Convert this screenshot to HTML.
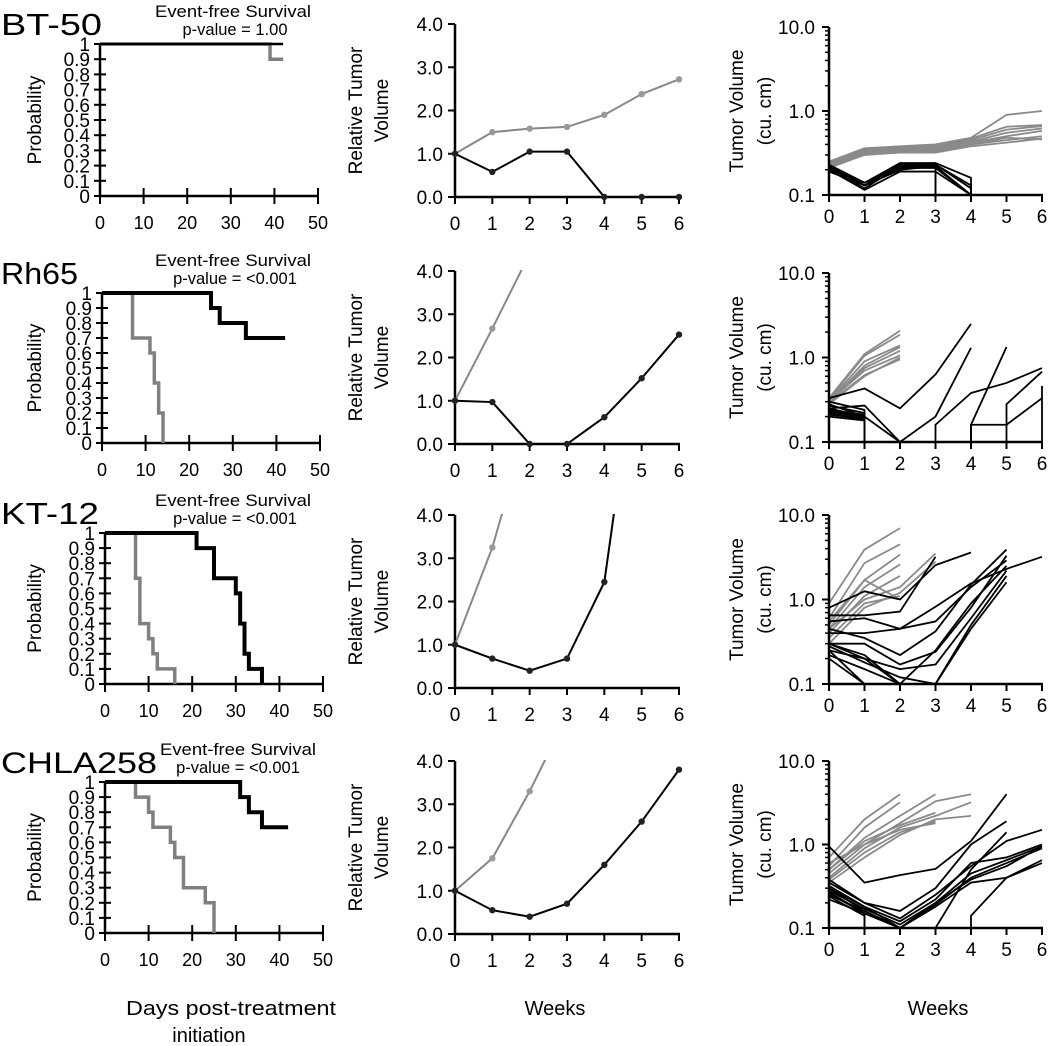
<!DOCTYPE html>
<html><head><meta charset="utf-8">
<style>
html,body{margin:0;padding:0;background:#fff;}
svg{display:block;font-family:"Liberation Sans",sans-serif;}
</style></head>
<body>
<svg id="fig" width="1050" height="1046" viewBox="0 0 1050 1046" xmlns="http://www.w3.org/2000/svg"></svg>
<script>
// ---------- DATA ----------
const rowNames = ["BT-50","Rh65","KT-12","CHLA258"];
const pValues = ["p-value = 1.00","p-value = <0.001","p-value = <0.001","p-value = <0.001"];
const kmXTicks = [0,10,20,30,40,50];
const kmYTicks = [0,0.1,0.2,0.3,0.4,0.5,0.6,0.7,0.8,0.9,1];
const kmYLabels = ["0","0.1","0.2","0.3","0.4","0.5","0.6","0.7","0.8","0.9","1"];
// KM curves: [day, survival] step points
const kmControl = [
  [[0,1],[39,0.9],[42,0.9]],
  [[0,1],[7,0.7],[11,0.6],[12,0.4],[13,0.2],[14,0]],
  [[0,1],[7,0.7],[8,0.4],[10,0.3],[11,0.2],[12,0.1],[16,0]],
  [[0,1],[7,0.9],[10,0.8],[11,0.7],[15,0.6],[16,0.5],[18,0.3],[23,0.2],[25,0]]
];
const kmTreated = [
  [[0,1],[42,1]],
  [[0,1],[25,0.9],[27,0.8],[33,0.7],[42,0.7]],
  [[0,1],[21,0.9],[25,0.7],[30,0.6],[31,0.4],[32,0.2],[33,0.1],[36,0]],
  [[0,1],[31,0.9],[33,0.8],[36,0.7],[42,0.7]]
];
const weeks = [0,1,2,3,4,5,6];
const rtvYTicks = [0,1,2,3,4];
const rtvYLabels = ["0.0","1.0","2.0","3.0","4.0"];
const rtvControl = [
  [1,1.5,1.58,1.62,1.9,2.38,2.72],
  [1,2.67,4.4],
  [1,3.25,6.25],
  [1,1.75,3.3,5.05]
];
const rtvTreated = [
  [1,0.58,1.05,1.05,0,0,0],
  [1,0.97,0,0,0.62,1.52,2.53],
  [1,0.68,0.4,0.68,2.45,8.6],
  [1,0.55,0.4,0.7,1.6,2.6,3.8]
];
const tvYMajor = [0.1,1,10];
const tvYLabels = ["0.1","1.0","10.0"];
// individual tumor volumes (cu. cm); 0 = tumor gone (vertical drop)
const tvControl = [
  [[0.25,0.36,0.38,0.4,0.48,0.9,1.0],[0.24,0.35,0.37,0.38,0.47,0.65,0.68],[0.23,0.33,0.36,0.37,0.45,0.6,0.66],
   [0.22,0.32,0.35,0.36,0.43,0.55,0.62],[0.24,0.34,0.36,0.35,0.42,0.5,0.58],[0.22,0.3,0.33,0.33,0.4,0.45,0.5],
   [0.21,0.3,0.32,0.32,0.38,0.42,0.47],[0.23,0.31,0.34,0.34,0.4,0.48,0.46]],
  [[0.33,1.1,2.07],[0.32,1.05,1.86],[0.31,0.9,1.39],[0.3,0.8,1.33],[0.3,0.7,1.06],[0.29,0.62,0.95],[0.28,0.6,1.0],[0.3,0.75,1.2]],
  [[0.9,3.9,7],[0.6,2.7,4.5],[0.5,1.7,3.4],[0.45,1.4,2.6],[0.4,1.1,1.9],[0.35,0.9,1.1],[0.45,1.0,1.4,3.5],[0.3,0.8,1.2,2.8],[0.55,1.7,1.0]],
  [[0.7,2.0,4.0],[0.55,1.6,3.2],[0.5,1.2,2.2,4.0],[0.45,1.0,1.8,3.3,4.0],[0.4,0.9,1.6,2.2,3.2],[0.5,1.1,1.7,2.4],
   [0.35,0.7,1.3,2.0,2.2],[0.38,0.8,1.4,1.9],[0.6,1.0,1.5,1.8]]
];
const tvTreated = [
  [[0.23,0.14,0.24,0.24,0.16,0],[0.22,0.13,0.23,0.23,0.13,0],[0.21,0.12,0.22,0.22,0.1],[0.2,0.14,0.21,0.21,0.1],
   [0.22,0.13,0.2,0.24,0],[0.2,0.115,0.19,0.19,0.1],[0.19,0.13,0.2,0.22,0],[0.21,0.14,0.22,0.23,0.12,0]],
  [[0.33,0.43,0.25,0.63,2.5],[0.25,0.27,0.1,0.2,1.3],[0.28,0.2,0.1],[0.3,0.24,0],[0.27,0.22,0],[0.25,0.2,0],[0.22,0.18,0],
   [0.24,0.21,0,0.16,0.38,0.5,0.75],[0.2,0.18,0,0,0.16,0.16,0.33],[0.23,0.2,0,0,0.16,1.33],[0.22,0.19,0,0,0,0.28,0.68],[0.21,0.19,0,0,0,0,0.46]],
  [[0.8,1.25,1.0,2.55,3.6],[0.65,0.65,0.72,3.2],[0.55,0.6,0.45,0.55,1.4,2.9],[0.45,0.35,0.22,0.42,1.5,3.9],
   [0.4,0.4,0.45,0.82,1.55,2.3,3.2],[0.3,0.3,0.17,0.24,0.8,3.3],[0.3,0.2,0.15,0.17,0.6,2.2],[0.25,0.1],[0.22,0.15,0.1],
   [0.3,0.22,0.1,0.25,0.9,2.5],[0.2,0.1],[0.28,0.18,0.12,0.1,0.5,1.9],[0.25,0.2,0.1,0.1,0.45,1.6]],
  [[0.95,0.35,0.43,0.51,1.1,4.0],[0.38,0.2,0.16,0.3,1.0,1.9],[0.35,0.2,0.13,0.25,0.55,1.1,1.5],[0.3,0.18,0.12,0.22,0.6,0.7,1.0],
   [0.28,0.17,0.11,0.2,0.45,0.65,0.95],[0.25,0.16,0.1,0.19,0.4,0.6,0.9],[0.22,0.15,0.1,0.18,0.35,0.4,0.6],
   [0.32,0.18,0.1,0.2,0.38,0.55,0.95],[0.3,0.16,0.1],[0.27,0.15,0],[0.26,0.15,0.1,0.1,0.5,1.4],[0.24,0.14,0,0,0.14,0.4,0.65]]
];
// ---------- LAYOUT ----------
const NS="http://www.w3.org/2000/svg";
const svg=document.getElementById('fig');
const kmRowTop=[44,293,533,782], kmRowBot=[196,443,684,933], kmX0=[100,102,105,105];
const mRowTop=[24,271,515,761], mRowBot=[197,444,688,934];
const rRowTop=[27,273,515,761], rRowBot=[195,442,684,928];
function el(tag,attrs,parent){const e=document.createElementNS(NS,tag);for(const k in attrs)e.setAttribute(k,attrs[k]);(parent||svg).appendChild(e);return e;}
function txt(s,x,y,size,anchor,parent,extra){const t=el('text',Object.assign({x:x,y:y,'font-size':size,'text-anchor':anchor||'start',fill:'#000'},extra||{}),parent);t.textContent=s;return t;}
function line(x1,y1,x2,y2,w,c,parent){return el('line',{x1:x1,y1:y1,x2:x2,y2:y2,stroke:c||'#000','stroke-width':w||2},parent);}

for(let r=0;r<4;r++){
  const off=kmRowTop[r]-44;
  const rowG=el('g',{});
  
  
  const lbl=txt(rowNames[r],1,35+off,r==3?30:31,'start',rowG,{textLength:r==3?156:(r==0?101:(r==1?77:(r==2?98:156))),lengthAdjust:'spacingAndGlyphs'});
  
  
  const cx=r==3?238:233;
  const t1=txt('Event-free Survival',cx,17+off,16.5,'middle',rowG,{textLength:r==3?156:156,lengthAdjust:'spacingAndGlyphs'});
  
  
  const t2=txt(pValues[r],r==3?238:235,35+off,16.5,'middle',rowG);
  
  

  // ---- KM panel ----
  const kg=el('g',{},rowG);
  
  
  const x0=kmX0[r], xw=218, yT=kmRowTop[r], yB=kmRowBot[r];
  const kx=d=>x0+d/50*xw, ky=p=>yB-p*(yB-yT);
  const yt=txt('Probability',0,0,19,'middle',kg,{transform:`translate(41,${(yT+yB)/2}) rotate(-90)`});
  
  
  kmYTicks.forEach((v,i)=>{line(x0-6,ky(v),x0+6,ky(v),2,'#000',kg);
    const l=txt(kmYLabels[i],x0-10,ky(v)+7,19,'end',kg);
    
    });
  kmXTicks.forEach(v=>{line(kx(v),yB-8,kx(v),yB+8,2,'#000',kg);
    const l=txt(String(v),kx(v),yB+33,18,'middle',kg);
    
    });
  line(x0,yT-1,x0,yB+1,2.5,'#000',kg);
  line(x0-1,yB,x0+xw+1,yB,2.5,'#000',kg);
  [[kmControl[r],'#808080',3.5,'km-control-curve'],[kmTreated[r],'#000',r==0?2.5:4,'km-treated-curve']].forEach(([pts,c,w,nm])=>{
    let d=`M${kx(pts[0][0])},${ky(pts[0][1])}`;
    for(let i=1;i<pts.length;i++){d+=` H${kx(pts[i][0])} V${ky(pts[i][1])}`;}
    const p=el('path',{d:d,fill:'none',stroke:c,'stroke-width':w},kg);
    
    
  });

  // ---- RTV panel ----
  const mg=el('g',{},rowG);
  
  
  const mx0=455, mxw=224, mT=mRowTop[r], mB=mRowBot[r];
  const mx=w=>mx0+w/6*mxw, my=v=>mB-v/4*(mB-mT);
  const cid='mclip'+r;
  const cp=el('clipPath',{id:cid},mg);el('rect',{x:mx0-6,y:mT-1,width:mxw+12,height:mB-mT+7},cp);
  const mt=el('text',{'font-size':19,'text-anchor':'middle',fill:'#000',transform:`translate(${362},${(mT+mB)/2}) rotate(-90)`},mg);
  
  
  const ts1=el('tspan',{x:0,dy:0},mt);ts1.textContent='Relative Tumor';
  const ts2=el('tspan',{x:0,dy:26},mt);ts2.textContent='Volume';
  rtvYTicks.forEach((v,i)=>{line(mx0-7,my(v),mx0,my(v),2,'#000',mg);
    const l=txt(rtvYLabels[i],mx0-12,my(v)+7,19,'end',mg);
    
    });
  weeks.forEach(v=>{line(mx(v),mB,mx(v),mB+7,2,'#000',mg);
    const l=txt(String(v),mx(v),mB+33,19,'middle',mg);
    
    });
  line(mx0,mT,mx0,mB+1,2.5,'#000',mg);
  line(mx0-1,mB,mx0+mxw+1,mB,2.5,'#000',mg);
  [[rtvControl[r],'#888','rtv-control-line'],[rtvTreated[r],'#000','rtv-treated-line']].forEach(([vals,c,nm])=>{
    const g=el('g',{'clip-path':`url(#${cid})`},mg);
    
    
    el('polyline',{points:vals.map((v,i)=>mx(i)+','+my(v)).join(' '),fill:'none',stroke:c,'stroke-width':2},g);
    vals.forEach((v,i)=>{if(v<=4.01){const m=el('circle',{cx:mx(i),cy:my(v),r:3.2,fill:c==='#000'?'#222':'#999'},g);
      
      }});
  });

  // ---- TV panel ----
  const rg=el('g',{},rowG);
  
  
  const rx0=829, rxw=213, rT=rRowTop[r], rB=rRowBot[r];
  const rx=w=>rx0+w/6*rxw, ry=v=>rB-(Math.log10(v)+1)/2*(rB-rT);
  const rid='rclip'+r;
  const rc=el('clipPath',{id:rid},rg);el('rect',{x:rx0,y:rT,width:rxw+3,height:rB-rT},rc);
  const rt=el('text',{'font-size':19,'text-anchor':'middle',fill:'#000',transform:`translate(${743},${(rT+rB)/2}) rotate(-90)`},rg);
  
  
  const r1=el('tspan',{x:0,dy:0},rt);r1.textContent='Tumor Volume';
  const r2=el('tspan',{x:0,dy:28},rt);r2.textContent='(cu. cm)';
  tvYMajor.forEach((v,i)=>{line(rx0-7,ry(v),rx0,ry(v),2,'#000',rg);
    const l=txt(tvYLabels[i],rx0-14,ry(v)+7,19,'end',rg);
    
    
    if(v<10){for(let k=2;k<10;k++)line(rx0-4,ry(v*k),rx0,ry(v*k),1.5,'#000',rg);}});
  weeks.forEach(v=>{line(rx(v),rB,rx(v),rB+7,2,'#000',rg);
    const l=txt(String(v),rx(v),rB+28,19,'middle',rg);
    
    });
  [[tvControl[r],'#8a8a8a','tv-control-line'],[tvTreated[r],'#000','tv-treated-line']].forEach(([lines,c,nm])=>{
    const g=el('g',{'clip-path':`url(#${rid})`},rg);
    
    
    lines.forEach(vals=>{
      let d='',pen=false,prevZero=false,prevX=null;
      vals.forEach((v,i)=>{
        if(v===null)return;
        if(v===0){ if(pen){d+=` L${rx(prevX)},${rB+5}`;} pen=false;prevZero=true;return;}
        const X=rx(i),Y=ry(v);
        if(!pen){ d+= prevZero?` M${X},${rB+5} L${X},${Y}`:` M${X},${Y}`; pen=true;}
        else d+=` L${X},${Y}`;
        prevX=i;prevZero=false;
      });
      const p=el('path',{d:d.trim(),fill:'none',stroke:c,'stroke-width':1.8,'stroke-linejoin':'round'},g);
      
      
    });
  });
  line(rx0,rT,rx0,rB+1,2.5,'#000',rg);
  line(rx0-1,rB,rx0+rxw+1,rB,2.5,'#000',rg);
}
// bottom axis titles
const b1=txt('Days post-treatment',231,1015,20,'middle',null,{textLength:210,lengthAdjust:'spacingAndGlyphs'});


const b2=txt('initiation',209,1042,20,'middle');


const b3=txt('Weeks',555,1015,20,'middle');


const b4=txt('Weeks',938,1015,20,'middle');


</script>
</body></html>
